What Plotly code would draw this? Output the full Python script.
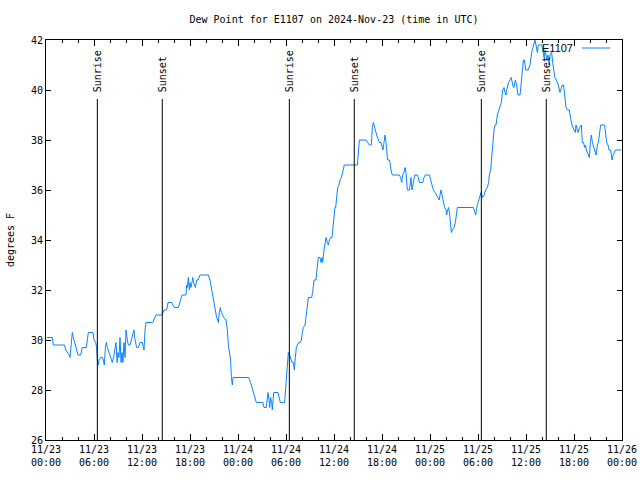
import pandas as pd
import plotly.graph_objects as go

# observation times (hours after 2024-11-23 00:00 UTC) and dew point (deg F)
hours = [
    0.1, 0.79, 0.92, 2.33, 2.46, 2.75, 2.92, 3.0, 3.17, 3.29, 3.42, 3.58, 3.79, 4.0, 4.33, 4.54,
    5.04, 5.17, 5.29, 5.88, 6.0, 6.21, 6.33, 6.42, 6.54, 6.62, 6.83, 7.08, 7.17, 7.29, 7.42, 7.54,
    7.67, 7.88, 8.08, 8.29, 8.5, 8.62, 8.75, 8.88, 9.0, 9.12, 9.25, 9.38, 9.5, 9.62, 9.75, 9.88,
    10.0, 10.17, 10.29, 10.5, 10.67, 10.83, 11.0, 11.08, 11.21, 11.33, 11.54, 11.75, 12.04, 12.17,
    12.25, 12.38, 12.5, 13.33, 13.5, 13.75, 14.5, 14.67, 14.75, 15.08, 15.25, 15.71, 15.83, 16.04,
    16.54, 16.67, 16.83, 17.0, 17.5, 17.58, 17.67, 17.79, 17.92, 18.0, 18.12, 18.25, 18.33, 18.46,
    18.67, 18.83, 19.0, 19.25, 20.29, 20.5, 20.67, 20.83, 21.0, 21.12, 21.33, 21.46, 21.54, 21.67,
    21.79, 21.92, 22.08, 22.21, 22.5, 22.67, 22.79, 22.96, 23.08, 23.17, 23.29, 23.38, 25.33, 25.58,
    25.75, 25.96, 26.17, 26.29, 27.12, 27.25, 27.54, 27.67, 27.75, 27.88, 27.96, 28.08, 28.21, 28.29,
    28.46, 29.0, 29.12, 29.29, 29.83, 29.92, 30.04, 30.17, 30.29, 30.46, 30.58, 30.75, 30.92, 31.04,
    31.17, 31.29, 31.42, 31.58, 31.75, 31.92, 32.04, 32.17, 32.38, 32.5, 32.67, 32.79, 33.21, 33.33,
    33.5, 33.75, 33.83, 33.96, 34.04, 34.25, 34.38, 34.5, 34.58, 34.75, 34.88, 35.0, 35.17, 35.29,
    35.42, 35.58, 35.75, 35.83, 36.0, 36.12, 36.21, 36.33, 36.46, 36.62, 36.75, 36.92, 37.08, 37.29,
    38.92, 39.04, 39.17, 40.0, 40.17, 40.42, 40.67, 40.79, 40.92, 41.04, 41.17, 41.33, 41.54, 41.67,
    41.88, 42.0, 42.12, 42.25, 42.38, 42.5, 42.58, 42.7, 42.92, 43.0, 43.12, 43.29, 44.17, 44.33,
    44.46, 44.58, 44.75, 44.88, 45.0, 45.17, 45.42, 45.5, 45.62, 45.75, 45.88, 46.0, 46.08, 46.42,
    46.54, 46.67, 47.08, 47.25, 47.42, 47.92, 48.0, 48.17, 48.29, 48.42, 48.62, 48.83, 49.04, 49.17,
    49.25, 49.38, 49.5, 49.67, 49.83, 50.0, 50.08, 50.21, 50.33, 50.46, 50.58, 50.67, 50.79, 51.0,
    51.17, 51.29, 51.42, 53.42, 53.58, 53.71, 53.92, 54.08, 54.25, 54.38, 54.58, 54.75, 54.96, 55.17,
    55.33, 55.42, 55.58, 55.67, 55.79, 55.92, 56.0, 56.12, 56.25, 56.42, 56.67, 56.75, 56.92, 57.08,
    57.25, 57.38, 57.5, 57.58, 57.71, 57.83, 58.0, 58.17, 58.33, 58.5, 58.67, 58.83, 59.0, 59.25,
    59.38, 59.5, 59.58, 59.67, 59.79, 59.96, 60.25, 60.5, 60.71, 60.92, 61.04, 61.12, 61.25, 61.42,
    61.54, 61.96, 62.1, 62.25, 62.4, 62.6, 62.75, 62.9, 63.0, 63.2, 63.3, 63.42, 63.6, 63.8,
    64.04, 64.25, 64.38, 64.54, 64.7, 64.8, 65.0, 65.2, 65.42, 65.5, 65.62, 65.75, 66.0, 66.17,
    66.25, 66.4, 66.5, 66.7, 66.92, 67.04, 67.2, 67.33, 67.45, 67.54, 67.65, 67.79, 67.92, 68.04,
    68.17, 68.3, 68.38, 68.58, 68.75, 68.92, 69.04, 69.17, 69.33, 69.83, 70.0, 70.08, 70.25, 70.38,
    70.58, 70.75, 70.9, 71.17, 71.9,
]
dewpoint = [
    30.1, 30.1, 29.8, 29.8, 29.6, 29.5, 29.4, 29.3, 30.0, 30.3, 30.1, 29.9, 29.7, 29.4, 29.4, 29.7,
    29.7, 30.0, 30.3, 30.3, 30.0, 29.9, 29.7, 29.2, 29.0, 29.2, 29.3, 29.3, 29.1, 29.0, 29.7, 29.9,
    29.7, 29.5, 29.3, 29.1, 29.4, 29.6, 29.9, 29.1, 29.5, 29.3, 30.1, 29.1, 29.5, 29.1, 29.9, 29.3,
    30.4, 30.0, 29.8, 29.8, 30.0, 30.1, 30.4, 30.1, 29.9, 29.7, 29.7, 29.9, 29.9, 29.7,
    29.6, 30.4, 30.7, 30.7, 30.8, 31.0, 31.0, 31.1, 31.2, 31.2, 31.5, 31.5, 31.4, 31.3,
    31.3, 31.5, 31.6, 31.8, 31.8, 32.2, 32.1, 32.5, 32.0, 32.3, 32.1, 32.3, 32.5, 32.3,
    32.1, 32.4, 32.4, 32.6, 32.6, 32.4, 32.1, 31.8, 31.5, 31.2, 30.9, 30.8, 30.7, 31.1,
    31.3, 31.1, 31.0, 30.9, 30.8, 30.4, 29.8, 29.5, 29.2, 28.5, 28.2, 28.5, 28.5, 28.3,
    28.1, 27.9, 27.6, 27.5, 27.5, 27.3, 27.3, 27.7, 27.9, 27.6, 27.3, 27.7, 27.5, 27.2,
    27.9, 27.9, 27.7, 27.5, 27.5, 27.9, 28.8, 29.3, 29.5, 29.4, 29.3, 29.1, 29.1, 28.8,
    29.3, 29.7, 29.8, 29.9, 29.9, 30.0, 30.3, 30.5, 30.6, 30.9, 31.3, 31.7, 31.7, 31.9,
    32.4, 32.4, 32.7, 33.1, 33.3, 33.3, 33.1, 33.3, 33.1, 33.6, 33.9, 34.1, 33.9, 33.8,
    34.0, 34.1, 34.1, 34.4, 35.1, 35.3, 35.3, 35.7, 36.1, 36.2, 36.4, 36.5, 36.7, 37.0,
    37.0, 37.7, 38.0, 38.0, 37.9, 37.8, 37.8, 38.5, 38.7, 38.5, 38.4, 38.2, 38.0, 37.9,
    37.9, 37.7, 37.6, 37.9, 38.2, 37.9, 37.5, 37.2, 37.2, 37.1, 36.8, 36.6, 36.6, 36.5,
    36.3, 36.6, 36.7, 36.9, 36.7, 36.0, 36.0, 36.3, 36.5, 36.0, 36.3, 36.5, 36.6, 36.6,
    36.5, 36.3, 36.3, 36.5, 36.6, 36.6, 36.5, 36.3, 36.2, 36.0, 35.9, 35.8, 35.7, 35.6,
    35.8, 36.0, 35.8, 35.5, 35.3, 35.2, 35.0, 35.2, 35.3, 35.0, 34.6, 34.3, 34.4, 34.5,
    34.7, 35.1, 35.3, 35.3, 35.1, 35.0, 35.4, 35.6, 35.8, 35.9, 35.7, 35.8, 36.0, 36.1,
    36.3, 36.6, 36.8, 37.2, 37.6, 37.9, 38.4, 38.6, 38.6, 39.0, 39.3, 39.4, 39.5, 40.0,
    40.1, 39.9, 39.8, 40.0, 40.2, 40.3, 40.4, 40.5, 40.2, 40.1, 40.4, 40.2, 39.8, 39.8,
    40.2, 40.7, 40.9, 41.2, 41.2, 40.8, 40.8, 41.0, 41.5, 41.8, 41.9, 42.0, 41.8, 41.5,
    41.8, 41.8, 41.6, 41.3, 41.6, 41.2, 41.4, 41.0, 41.4, 41.5, 41.2, 40.8, 40.5, 40.4,
    40.2, 39.9, 40.1, 40.2, 40.2, 39.9, 39.3, 39.2, 39.2, 39.0, 38.8, 38.6, 38.4, 38.3,
    38.6, 38.4, 38.3, 38.5, 38.6, 37.9, 37.9, 37.7, 37.8, 37.6, 37.5, 37.4, 37.3, 37.9,
    38.2, 37.9, 37.8, 37.6, 37.4, 37.8, 37.9, 38.2, 38.6, 38.6, 38.1, 37.9, 37.8, 37.6,
    37.6, 37.2, 37.4, 37.6, 37.6,
]

sunrise_times = ["2024-11-23 06:25", "2024-11-24 06:25", "2024-11-25 06:25"]
sunset_times = ["2024-11-23 14:32", "2024-11-24 14:32", "2024-11-25 14:32"]
sun_line_top = 39.64

start = pd.Timestamp("2024-11-23 00:00")
times = [start + pd.Timedelta(hours=h) for h in hours]

MONO = "DejaVu Sans Mono"

fig = go.Figure()
fig.add_trace(go.Scatter(x=times, y=dewpoint, mode="lines",
                         line=dict(color="#0a84ff", width=1), showlegend=False))

annotations = []
shapes = []
for label, tlist in (("Sunrise", sunrise_times), ("Sunset", sunset_times)):
    for t in tlist:
        shapes.append(dict(type="line", xref="x", yref="y", x0=t, x1=t, y0=26, y1=sun_line_top,
                           line=dict(color="black", width=1)))
        annotations.append(dict(x=t, y=sun_line_top, xref="x", yref="y", text=label,
                                textangle=-90, showarrow=False, xanchor="center",
                                yanchor="bottom", yshift=5,
                                font=dict(family=MONO, size=10, color="black")))

# legend (text left of line sample, gnuplot style)
annotations.append(dict(x=0.918, y=0.98, xref="paper", yref="paper", text="E1107",
                        showarrow=False, xanchor="right", yanchor="middle",
                        font=dict(family="Liberation Sans", size=11, color="black")))
shapes.append(dict(type="line", xref="paper", yref="paper", x0=0.9306, x1=0.9792,
                   y0=0.98, y1=0.98, line=dict(color="#0a84ff", width=1)))

fig.update_layout(
    width=640, height=480,
    margin=dict(l=46, r=18, t=40, b=40, autoexpand=False),
    plot_bgcolor="white", paper_bgcolor="white",
    title=dict(text="Dew Point for E1107 on 2024-Nov-23 (time in UTC)",
               x=0.5, xref="paper", y=1 - 19 / 480, yref="container", yanchor="middle",
               font=dict(family=MONO, size=10, color="black")),
    font=dict(family=MONO, size=10, color="black"),
    annotations=annotations, shapes=shapes,
    showlegend=False,
)
fig.update_xaxes(
    type="date", range=["2024-11-23 00:00", "2024-11-26 00:00"], automargin=False,
    tick0="2024-11-23 00:00", dtick=6 * 3600 * 1000, tickformat="%m/%d<br>%H:%M",
    ticks="inside", ticklen=6, tickcolor="black", showline=True, linecolor="black",
    linewidth=1, mirror="ticks", showgrid=False, zeroline=False,
    tickfont=dict(family=MONO, size=10, color="black"),
    minor=dict(dtick=2 * 3600 * 1000, ticks="inside", ticklen=3, tickcolor="black",
               showgrid=False),
)
fig.update_yaxes(
    range=[26, 42], dtick=2, tick0=26, ticks="inside", ticklen=5, tickcolor="black",
    showline=True, linecolor="black", linewidth=1, mirror="ticks", showgrid=False,
    zeroline=False, automargin=False, tickfont=dict(family=MONO, size=10, color="black"),
    title=dict(text="degrees F", standoff=14, font=dict(family=MONO, size=10, color="black")),
)

fig.write_html("out.html")
